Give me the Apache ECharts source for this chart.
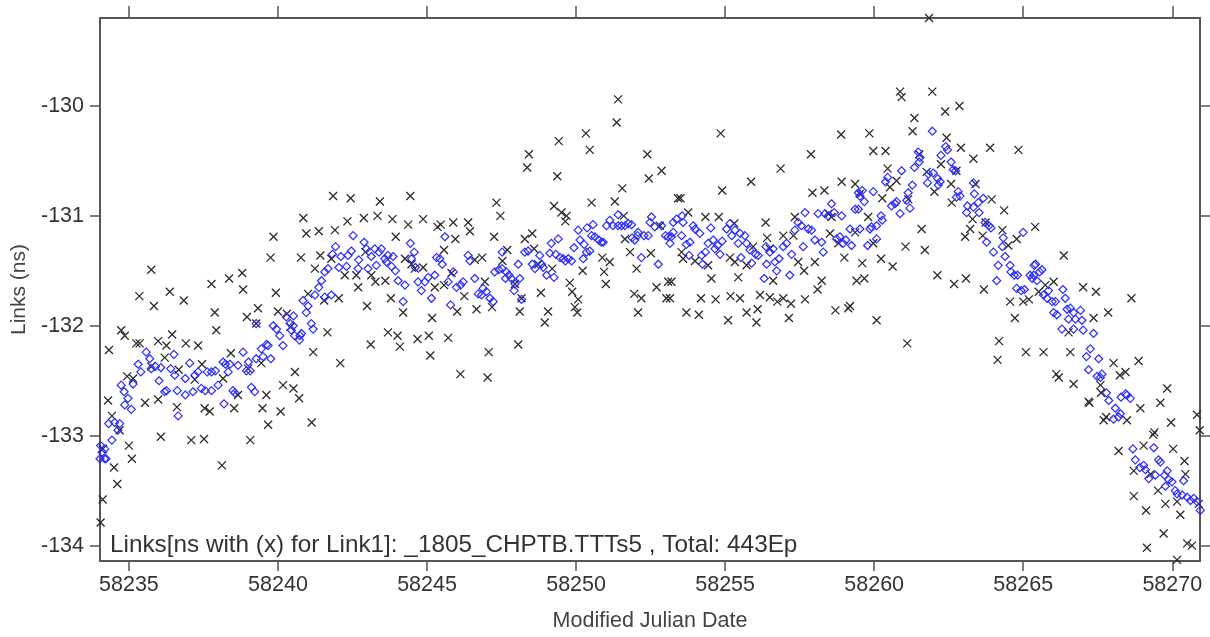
<!DOCTYPE html>
<html>
<head>
<meta charset="utf-8">
<script src="https://cdn.jsdelivr.net/npm/echarts@6/dist/echarts.min.js"></script>
<style>
html,body{margin:0;padding:0;background:#fff;}
#chart{width:1210px;height:637px;}
</style>
</head>
<body>
<div id="chart"></div>
<script>
// Tick labels
var xTicks = [58235, 58240, 58245, 58250, 58255, 58260, 58265, 58270];
var yTicks = [-134, -133, -132, -131, -130];
var annotationText = 'Links[ns with (x) for Link1]: _1805_CHPTB.TTTs5 , Total: 443Ep';
var xAxisTitle = 'Modified Julian Date';
var yAxisTitle = 'Links (ns)';

// Raw link measurements (x markers): [MJD, ns]
var crossPoints = [
[58239.75,-131.38],[58239.85,-131.19],[58235.75,-131.49],[58238.80,-131.52],[58238.36,-131.57],[58237.77,-131.62],[58236.37,-131.69],[58235.35,-131.73],[58239.93,-131.70],[58238.83,-131.67],[58236.84,-131.77],[58235.84,-131.82],[58239.33,-131.84],[58237.88,-131.88],[58238.96,-131.92],[58240.00,-131.87],[58237.93,-132.04],[58239.27,-131.98],[58234.74,-132.04],[58234.86,-132.09],[58234.33,-132.22],[58235.25,-132.16],[58235.36,-132.16],[58235.98,-132.14],[58236.45,-132.08],[58236.26,-132.18],[58236.91,-132.16],[58237.32,-132.18],[58236.20,-132.29],[58238.42,-132.25],[58235.75,-132.37],[58236.67,-132.40],[58237.45,-132.35],[58239.00,-132.39],[58239.44,-132.34],[58234.94,-132.46],[58235.14,-132.48],[58238.16,-132.48],[58237.21,-132.49],[58240.17,-132.54],[58238.66,-132.63],[58239.61,-132.63],[58234.30,-132.68],[58235.54,-132.70],[58235.98,-132.67],[58236.61,-132.74],[58237.54,-132.75],[58237.71,-132.78],[58238.53,-132.75],[58239.48,-132.75],[58240.09,-132.78],[58234.43,-132.82],[58239.67,-132.90],[58234.69,-132.95],[58236.07,-133.01],[58237.09,-133.04],[58237.52,-133.03],[58239.07,-133.04],[58235.00,-133.09],[58235.10,-133.21],[58234.50,-133.29],[58238.12,-133.27],[58234.61,-133.44],[58234.12,-133.58],[58234.05,-133.79],[58241.13,-132.88],[58240.71,-132.66],[58240.85,-131.02],[58240.77,-131.38],[58240.52,-132.57],[58240.30,-131.89],[58240.41,-132.01],[58240.57,-132.42],[58234.13,-133.12],
[58241.85,-130.82],[58242.44,-130.84],[58243.42,-130.87],[58244.44,-130.82],[58242.33,-131.05],[58242.88,-131.02],[58243.34,-131.00],[58243.84,-131.03],[58244.37,-131.08],[58244.87,-131.03],[58245.35,-131.10],[58245.46,-131.08],[58245.88,-131.06],[58246.38,-131.06],[58246.44,-131.14],[58240.95,-131.16],[58241.37,-131.14],[58241.91,-131.13],[58243.95,-131.19],[58245.95,-131.21],[58241.42,-131.36],[58241.79,-131.39],[58241.24,-131.48],[58242.93,-131.33],[58244.26,-131.39],[58245.57,-131.31],[58246.60,-131.40],[58242.24,-131.54],[58242.63,-131.54],[58243.13,-131.54],[58243.27,-131.60],[58243.60,-131.59],[58244.48,-131.44],[58244.59,-131.48],[58244.87,-131.47],[58242.69,-131.65],[58241.01,-131.71],[58241.55,-131.77],[58242.04,-131.75],[58242.99,-131.82],[58243.79,-131.75],[58245.26,-131.65],[58245.57,-131.63],[58245.82,-131.52],[58246.25,-131.73],[58246.01,-131.87],[58246.66,-131.85],[58244.20,-131.88],[58245.17,-131.93],[58241.66,-132.06],[58243.69,-132.06],[58244.01,-132.09],[58244.09,-132.19],[58244.68,-132.12],[58245.06,-132.09],[58245.71,-132.11],[58243.11,-132.17],[58245.11,-132.27],[58241.18,-132.24],[58242.09,-132.34],[58246.12,-132.44],
[58251.41,-129.94],[58251.36,-130.15],[58250.33,-130.25],[58249.42,-130.32],[58250.46,-130.40],[58248.42,-130.44],[58248.36,-130.56],[58249.37,-130.64],[58252.39,-130.44],[58252.87,-130.59],[58252.44,-130.66],[58251.55,-130.75],[58247.33,-130.88],[58247.46,-131.00],[58249.26,-130.91],[58249.51,-130.97],[58249.68,-131.00],[58249.64,-131.05],[58250.52,-130.88],[58251.30,-130.87],[58251.60,-131.00],[58247.25,-131.19],[58248.28,-131.21],[58248.53,-131.16],[58248.59,-131.30],[58247.69,-131.31],[58246.85,-131.38],[58247.53,-131.41],[58248.73,-131.44],[58249.20,-131.48],[58250.22,-131.50],[58250.88,-131.38],[58251.13,-131.42],[58250.94,-131.51],[58251.00,-131.62],[58251.81,-131.33],[58252.03,-131.48],[58251.64,-131.21],[58252.51,-131.34],[58252.81,-131.09],[58253.09,-131.60],[58252.70,-131.65],[58253.03,-131.75],[58251.95,-131.71],[58252.19,-131.75],[58252.08,-131.88],[58249.79,-131.61],[58249.87,-131.69],[58250.07,-131.76],[58249.96,-131.83],[58250.04,-131.88],[58248.82,-131.70],[58249.06,-131.87],[58248.95,-131.97],[58248.11,-131.87],[58247.18,-131.83],[58247.95,-131.62],[58246.94,-131.60],[58248.17,-131.75],[58248.06,-132.17],[58247.07,-132.24],[58247.03,-132.47],
[58254.85,-130.25],[58258.89,-130.26],[58257.88,-130.44],[58256.86,-130.57],[58255.87,-130.69],[58254.90,-130.77],[58257.93,-130.79],[58258.33,-130.77],[58258.91,-130.69],[58259.36,-130.71],[58253.42,-130.84],[58253.50,-130.84],[58253.76,-130.97],[58254.34,-131.01],[58254.79,-131.01],[58255.31,-131.07],[58256.36,-131.06],[58257.34,-131.01],[58258.46,-130.98],[58258.57,-131.01],[58256.95,-131.18],[58257.29,-131.18],[58256.41,-131.20],[58258.52,-131.16],[58259.36,-131.15],[58253.54,-131.33],[58253.59,-131.39],[58253.99,-131.41],[58254.43,-131.45],[58255.16,-131.38],[58255.33,-131.42],[58255.72,-131.45],[58255.94,-131.28],[58256.50,-131.30],[58257.45,-131.42],[58257.65,-131.50],[58258.01,-131.42],[58258.80,-131.25],[58259.00,-131.38],[58253.20,-131.60],[58254.54,-131.57],[58255.44,-131.56],[58256.61,-131.59],[58258.24,-131.59],[58258.10,-131.67],[58259.41,-131.59],[58253.15,-131.75],[58254.19,-131.75],[58254.68,-131.76],[58255.18,-131.73],[58255.50,-131.75],[58256.17,-131.72],[58256.50,-131.74],[58256.75,-131.78],[58256.95,-131.75],[58257.21,-131.80],[58257.68,-131.76],[58253.70,-131.88],[58254.12,-131.90],[58255.10,-131.95],[58255.72,-131.88],[58256.09,-131.85],[58256.05,-131.97],[58257.14,-131.93],[58258.70,-131.86],[58259.13,-131.84],[58259.19,-131.82],
[58261.84,-129.20],[58260.87,-129.87],[58260.92,-129.92],[58261.95,-129.87],[58262.38,-130.05],[58262.86,-130.00],[58261.35,-130.11],[58261.29,-130.23],[58262.43,-130.29],[58262.91,-130.38],[58263.33,-130.48],[58263.89,-130.38],[58264.84,-130.40],[58259.84,-130.25],[58259.97,-130.41],[58260.38,-130.41],[58261.51,-130.44],[58260.45,-130.57],[58260.75,-130.68],[58260.53,-130.74],[58261.76,-130.60],[58262.24,-130.53],[58262.76,-130.59],[58262.02,-130.78],[58262.58,-130.71],[58263.40,-130.71],[58262.60,-130.88],[58263.94,-130.85],[58264.36,-130.95],[58260.27,-130.84],[58261.14,-130.85],[58259.52,-130.80],[58259.80,-131.01],[58263.30,-131.03],[58263.64,-131.18],[58263.74,-131.06],[58263.05,-131.19],[58263.22,-131.12],[58264.30,-131.13],[58264.78,-131.21],[58265.40,-131.10],[58264.50,-131.27],[58261.59,-131.12],[58261.05,-131.28],[58261.70,-131.31],[58259.97,-131.25],[58260.23,-131.39],[58259.60,-131.43],[58259.67,-131.57],[58260.62,-131.46],[58262.12,-131.54],[58262.68,-131.62],[58263.08,-131.57],[58263.68,-131.67],[58264.56,-131.78],[58265.00,-131.78],[58265.19,-131.76],[58264.72,-131.93],[58260.08,-131.95],[58261.11,-132.16],[58264.19,-132.14],[58264.14,-132.31],[58265.09,-132.24],
[58266.36,-131.36],[58267.01,-131.65],[58267.44,-131.69],[58268.63,-131.75],[58267.85,-131.88],[58267.36,-131.93],[58266.02,-131.60],[58265.74,-131.63],[58265.52,-131.69],[58266.52,-132.06],[58265.68,-132.24],[58266.58,-132.24],[58268.03,-132.34],[58268.87,-132.32],[58268.43,-132.42],[58268.24,-132.45],[58266.11,-132.44],[58266.19,-132.47],[58266.69,-132.53],[58267.59,-132.54],[58267.61,-132.61],[58269.83,-132.57],[58267.19,-132.69],[58267.22,-132.70],[58269.60,-132.70],[58268.93,-132.75],[58268.48,-132.86],[58267.70,-132.86],[58267.78,-132.83],[58269.96,-132.88],[58270.83,-132.81],[58270.92,-132.95],[58269.40,-132.97],[58269.36,-132.99],[58269.04,-133.09],[58268.20,-133.14],[58270.03,-133.12],[58270.41,-133.23],[58270.44,-133.35],[58268.71,-133.32],[58269.27,-133.35],[58269.52,-133.50],[58268.71,-133.55],[58269.77,-133.62],[58270.16,-133.60],[58269.12,-133.68],[58270.27,-133.72],[58269.71,-133.89],[58270.50,-133.98],[58270.66,-134.00],[58269.15,-134.02],[58270.16,-134.13],[58270.89,-133.62]
];

// Smoothed values (diamond markers): [MJD, ns]
var diamondPoints = [
[58234.19,-133.12],[58234.10,-133.15],[58234.19,-133.21],[58234.05,-133.09],[58234.03,-133.21],[58234.23,-133.21],[58234.43,-133.04],[58234.32,-132.89],[58234.52,-132.88],[58234.69,-132.89],[58234.63,-132.95],[58234.74,-132.54],[58234.84,-132.60],[58234.97,-132.66],[58234.86,-132.72],[58235.08,-132.76],[58235.14,-132.53],[58235.40,-132.42],[58235.31,-132.35],[58235.58,-132.24],[58235.70,-132.30],[58235.75,-132.39],[58235.89,-132.37],[58236.07,-132.38],[58236.01,-132.50],[58236.26,-132.59],[58236.20,-132.60],[58236.51,-132.26],[58236.40,-132.39],[58236.54,-132.45],[58236.62,-132.59],[58236.65,-132.82],[58236.89,-132.48],[58237.04,-132.34],[58236.89,-132.63],[58237.15,-132.60],[58237.32,-132.42],[58237.21,-132.45],[58237.43,-132.57],[58237.56,-132.59],[58237.63,-132.42],[58237.77,-132.42],[58237.90,-132.41],[58237.99,-132.54],[58238.16,-132.33],[58238.24,-132.35],[58238.33,-132.42],[58237.77,-132.59],[58238.19,-132.71],[58238.49,-132.59],[58238.55,-132.61],[58238.66,-132.36],[58238.83,-132.24],[58238.94,-132.41],[58239.07,-132.41],[58239.11,-132.56],[58239.22,-132.60],[58239.27,-132.30],[58239.44,-132.21],[58239.50,-132.28],[58239.67,-132.18],[58239.76,-132.30],[58239.84,-132.00],[58239.95,-132.03],[58240.06,-132.09],[58240.17,-132.18],[58240.28,-131.92],[58239.27,-131.98],[58239.62,-132.17],[58239.01,-132.33],[58238.39,-132.35],[58240.52,-131.91],[58240.41,-131.98],[58240.74,-132.09],[58240.72,-132.13],
[58240.51,-132.00],[58240.45,-132.04],[58240.56,-132.09],[58240.79,-132.07],[58241.12,-131.98],[58241.18,-132.03],[58240.95,-131.88],[58240.84,-131.77],[58241.01,-131.82],[58241.24,-131.72],[58241.37,-131.65],[58241.46,-131.59],[58241.57,-131.51],[58241.68,-131.48],[58241.57,-131.74],[58241.79,-131.72],[58241.83,-131.35],[58241.93,-131.28],[58242.11,-131.37],[58242.04,-131.47],[58242.30,-131.46],[58242.35,-131.36],[58242.46,-131.32],[58242.52,-131.18],[58242.71,-131.40],[58242.69,-131.48],[58242.89,-131.24],[58242.97,-131.30],[58243.02,-131.48],[58243.13,-131.37],[58243.25,-131.30],[58243.30,-131.45],[58243.39,-131.33],[58243.47,-131.30],[58243.58,-131.39],[58243.64,-131.42],[58243.69,-131.36],[58243.81,-131.46],[58243.86,-131.37],[58243.94,-131.50],[58244.03,-131.59],[58244.26,-131.63],[58244.20,-131.78],[58244.44,-131.25],[58244.57,-131.33],[58244.48,-131.39],[58244.61,-131.47],[58244.70,-131.60],[58244.93,-131.60],[58244.81,-131.68],[58245.04,-131.56],[58245.15,-131.75],[58245.26,-131.54],[58245.32,-131.38],[58245.43,-131.39],[58245.60,-131.19],[58245.51,-131.44],[58245.71,-131.60],[58245.79,-131.81],[58245.88,-131.51],[58245.99,-131.65],[58246.13,-131.63],[58246.21,-131.60],[58246.38,-131.36],[58246.44,-131.41],[58246.60,-131.57],[58246.72,-131.71],
[58246.88,-131.66],[58246.99,-131.69],[58246.83,-131.72],[58247.11,-131.75],[58247.22,-131.78],[58247.27,-131.51],[58247.41,-131.49],[58247.52,-131.48],[58247.52,-131.33],[58247.66,-131.51],[58247.63,-131.57],[58247.75,-131.54],[58247.83,-131.57],[58247.95,-131.62],[58247.92,-131.68],[58248.11,-131.57],[58248.06,-131.44],[58248.17,-131.76],[58248.28,-131.33],[58248.39,-131.32],[58248.53,-131.44],[58248.62,-131.48],[58248.78,-131.36],[58248.84,-131.44],[58248.90,-131.47],[58249.01,-131.54],[58249.12,-131.34],[58249.17,-131.25],[58249.26,-131.56],[58249.40,-131.21],[58249.32,-131.35],[58249.46,-131.38],[58249.57,-131.39],[58249.64,-131.41],[58249.74,-131.39],[58249.85,-131.41],[58249.93,-131.29],[58250.07,-131.13],[58250.13,-131.22],[58250.24,-131.39],[58250.27,-131.26],[58250.37,-131.11],[58250.35,-131.33],[58250.46,-131.32],[58250.52,-131.18],[58250.57,-131.08],[58250.63,-131.19],[58250.76,-131.22],[58250.85,-131.24],[58250.91,-131.24],[58251.02,-131.09],[58251.13,-131.04],[58251.24,-131.09],[58251.41,-130.99],[58251.41,-131.09],[58251.52,-131.09],[58251.64,-131.09],[58251.75,-131.07],[58251.86,-131.08],[58251.88,-131.20],[58251.97,-131.22],[58252.06,-131.18],[58252.08,-131.15],[58252.19,-131.38],[58252.28,-131.18],[58252.42,-131.18],[58252.48,-131.06],[58252.53,-131.01],[58252.64,-131.10],[58252.76,-131.44],[58252.87,-131.09],[58253.00,-131.18],[58253.09,-131.19],
[58253.26,-131.06],[58253.37,-131.03],[58253.56,-131.00],[58253.59,-131.06],[58253.20,-131.19],[58253.15,-131.25],[58253.26,-131.15],[58253.54,-131.18],[58253.70,-131.26],[58253.82,-131.24],[58253.79,-131.36],[58253.93,-131.09],[58253.99,-131.12],[58254.15,-131.16],[58254.21,-131.36],[58254.24,-131.44],[58254.34,-131.33],[58254.43,-131.25],[58254.52,-131.11],[58254.60,-131.22],[58254.66,-131.30],[58254.75,-131.27],[58254.83,-131.35],[58254.90,-131.23],[58255.05,-131.12],[58255.16,-131.07],[58255.22,-131.18],[58255.33,-131.13],[58255.44,-131.25],[58255.50,-131.16],[58255.53,-131.38],[58255.66,-131.18],[58255.72,-131.25],[58255.83,-131.31],[58255.89,-131.43],[58256.02,-131.35],[58256.11,-131.36],[58256.31,-131.57],[58256.37,-131.28],[58256.39,-131.44],[58256.50,-131.33],[58256.61,-131.30],[58256.67,-131.42],[58256.73,-131.50],[58256.81,-131.39],[58256.95,-131.28],[58257.06,-131.25],[58257.17,-131.54],[58257.23,-131.35],[58257.34,-131.13],[58257.45,-131.06],[58257.56,-131.09],[58257.62,-131.28],[58257.68,-130.97],[58257.79,-131.12],[58257.90,-131.13],[58258.01,-131.22],[58258.12,-130.98],[58258.24,-131.24],[58258.29,-131.33],[58258.35,-130.98],[58258.46,-131.00],[58258.57,-130.89],[58258.66,-130.97],[58258.74,-131.21],[58258.85,-131.19],[58258.91,-131.00],[58258.96,-131.25],[58259.05,-131.22],[58259.19,-131.12],[58259.24,-131.27],[58259.36,-130.94],[58259.47,-130.79],
[58261.95,-130.23],[58261.48,-130.42],[58261.54,-130.47],[58261.51,-130.51],[58262.40,-130.37],[58262.46,-130.40],[58262.24,-130.45],[58262.58,-130.51],[58262.65,-130.58],[58262.73,-130.59],[58261.35,-130.56],[58260.92,-130.59],[58260.45,-130.65],[58260.38,-130.69],[58261.82,-130.62],[58261.98,-130.61],[58261.79,-130.70],[58262.13,-130.66],[58262.21,-130.69],[58262.15,-130.72],[58261.28,-130.72],[58261.14,-130.79],[58261.09,-130.86],[58261.20,-130.93],[58260.87,-130.98],[58260.70,-130.89],[58260.58,-130.91],[58260.75,-130.87],[58259.97,-130.78],[58259.60,-130.77],[58259.67,-130.87],[58259.52,-130.82],[58259.47,-130.94],[58260.23,-131.00],[58260.27,-131.04],[58260.08,-131.09],[58259.91,-131.10],[58259.86,-131.12],[58259.52,-131.12],[58260.08,-131.21],[58259.78,-131.27],[58262.82,-130.78],[58262.88,-130.82],[58262.76,-130.83],[58263.33,-130.70],[58263.36,-130.80],[58263.49,-130.88],[58263.66,-130.84],[58263.13,-130.91],[58263.10,-130.97],[58263.33,-130.92],[58263.52,-130.97],[58263.72,-131.06],[58263.85,-131.09],[58263.92,-131.11],[58263.77,-131.24],[58264.00,-131.33],[58264.16,-131.45],[58264.11,-131.59],[58264.33,-131.20],[58264.39,-131.37],[58264.30,-131.28],[58264.56,-131.45],[58264.59,-131.51],[58264.70,-131.54],[58264.81,-131.54],[58264.78,-131.66],[58264.93,-131.68],[58265.04,-131.67],[58265.23,-131.54],[58265.30,-131.57],[58265.37,-131.45],[58265.00,-131.15],
[58265.41,-131.44],[58265.63,-131.49],[58265.55,-131.51],[58265.35,-131.54],[58265.46,-131.59],[58265.85,-131.68],[58265.68,-131.72],[58265.80,-131.75],[58266.08,-131.78],[58265.97,-131.78],[58266.33,-131.67],[58266.41,-131.75],[58266.02,-131.88],[58266.13,-131.90],[58266.47,-131.85],[58266.58,-131.84],[58266.69,-131.88],[58266.92,-131.86],[58266.52,-131.94],[58266.75,-131.94],[58266.97,-131.95],[58266.30,-132.03],[58266.69,-132.03],[58267.01,-132.04],[58267.36,-132.07],[58267.25,-132.21],[58267.12,-132.28],[58267.53,-132.30],[58267.19,-132.40],[58267.48,-132.46],[58267.64,-132.44],[58267.59,-132.47],[58267.79,-132.61],[58267.87,-132.68],[58268.09,-132.75],[58268.03,-132.85],[58268.20,-132.83],[58268.28,-132.65],[58268.43,-132.62],[58268.48,-132.63],[58268.59,-132.66],[58268.26,-132.80],[58268.68,-133.12],[58268.76,-133.22],[58268.91,-133.29],[58269.04,-133.27],[58269.10,-133.31],[58269.21,-133.39],[58269.38,-133.11],[58269.54,-133.22],[58269.60,-133.24],[58269.74,-133.36],[58269.83,-133.32],[58269.77,-133.46],[58269.88,-133.40],[58269.99,-133.42],[58270.10,-133.50],[58270.16,-133.53],[58270.33,-133.54],[58270.38,-133.41],[58270.50,-133.56],[58270.61,-133.59],[58270.72,-133.57],[58270.83,-133.60],[58270.94,-133.68],[58269.43,-133.36]
];

var X_MIN = 58234.03, X_MAX = 58270.93;
var Y_MIN = -134.14, Y_MAX = -129.2;

var FONT = 'Liberation Sans, Arial, sans-serif';
var axisColor = '#555';
var chart = echarts.init(document.getElementById('chart'), null, {renderer: 'canvas'});

function plainNum(v) { return String(v); }

function baseX(pos, showLabel, tickLen) {
  return {
    type: 'value', position: pos, min: X_MIN, max: X_MAX,
    axisLine: {show: true, onZero: false, lineStyle: {color: axisColor, width: 2}},
    axisTick: {show: true, inside: false, length: tickLen, customValues: xTicks, lineStyle: {color: axisColor, width: 1.5}},
    axisLabel: {show: showLabel, customValues: xTicks, formatter: plainNum, fontSize: 21.5, color: '#333', fontFamily: FONT, margin: 13},
    splitLine: {show: false}
  };
}
function baseY(pos, showLabel) {
  return {
    type: 'value', position: pos, min: Y_MIN, max: Y_MAX,
    axisLine: {show: true, onZero: false, lineStyle: {color: axisColor, width: 2}},
    axisTick: {show: true, inside: false, length: 10, customValues: yTicks, lineStyle: {color: axisColor, width: 1.5}},
    axisLabel: {show: showLabel, customValues: yTicks, formatter: plainNum, fontSize: 21.5, color: '#333', fontFamily: FONT, margin: 16},
    splitLine: {show: false}
  };
}

var xBottom = baseX('bottom', true, 10);
xBottom.name = xAxisTitle;
xBottom.nameLocation = 'middle';
xBottom.nameGap = 49;
xBottom.nameTextStyle = {fontSize: 21.5, color: '#444', fontFamily: FONT};
var xTop = baseX('top', false, 12);

var yLeft = baseY('left', true);
yLeft.name = yAxisTitle;
yLeft.nameLocation = 'middle';
yLeft.nameGap = 70;
yLeft.nameRotate = 90;
yLeft.nameTextStyle = {fontSize: 21, color: '#444', fontFamily: FONT};
var yRight = baseY('right', false);

var option = {
  animation: false,
  backgroundColor: '#fff',
  title: {
    text: annotationText, left: 105, top: 528,
    textStyle: {fontSize: 24.3, fontWeight: 'normal', color: '#333', fontFamily: FONT}
  },
  grid: {left: 100, right: 10, top: 18, bottom: 75, containLabel: false},
  xAxis: [xBottom, xTop],
  yAxis: [yLeft, yRight],
  series: [
    {
      type: 'scatter', xAxisIndex: 0, yAxisIndex: 0, clip: false,
      data: crossPoints,
      symbol: 'path://M0,0L10,10M0,10L10,0',
      symbolSize: 8,
      itemStyle: {color: 'rgba(0,0,0,0)', borderColor: '#2b2b2b', borderWidth: 1.3, opacity: 1},
      z: 2
    },
    {
      type: 'scatter', xAxisIndex: 0, yAxisIndex: 0, clip: false,
      data: diamondPoints,
      symbol: 'diamond',
      symbolSize: [8, 8],
      itemStyle: {color: 'rgba(255,255,255,0)', borderColor: '#2c2cff', borderWidth: 1.2, opacity: 1},
      z: 3
    }
  ]
};
chart.setOption(option);
</script>
</body>
</html>
